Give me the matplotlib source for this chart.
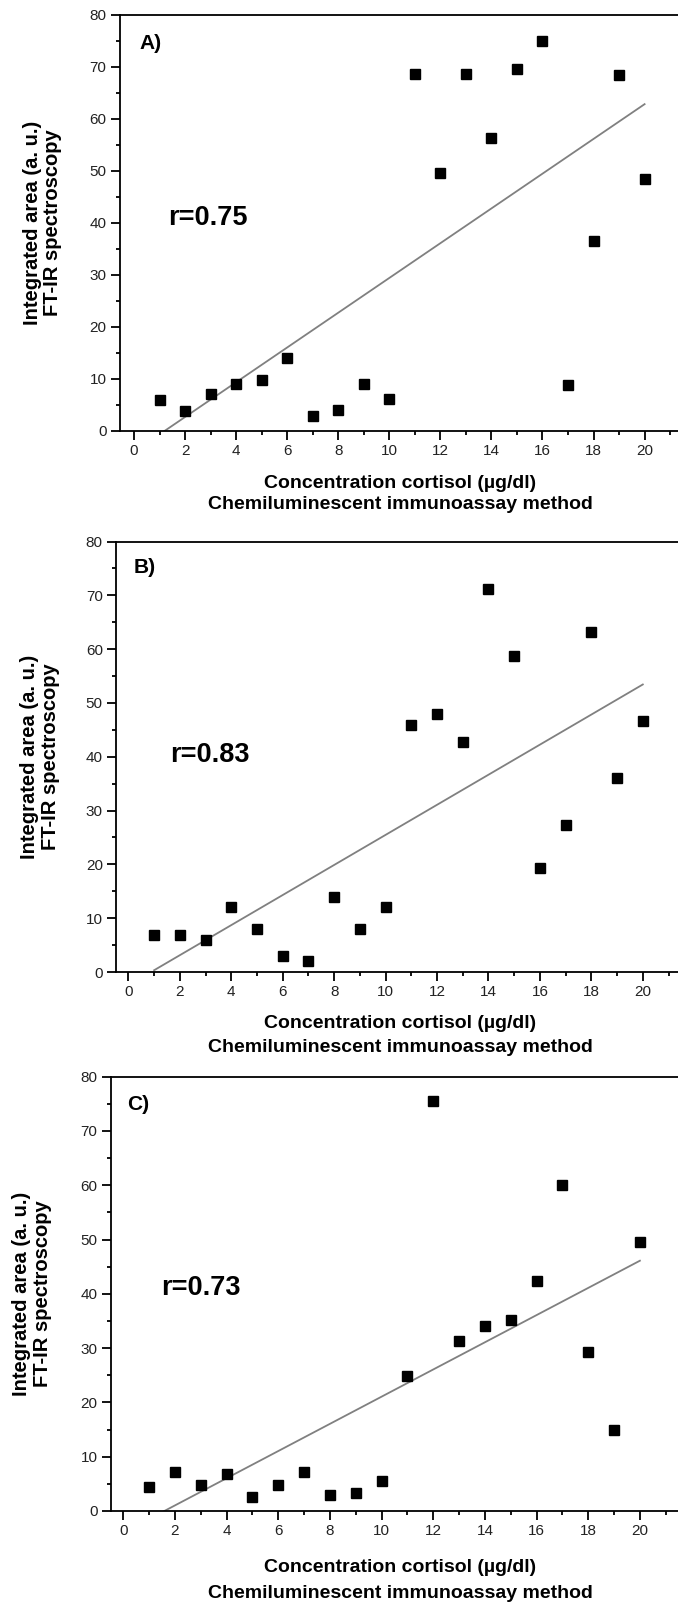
import numpy as np
import matplotlib
matplotlib.use("Agg")
import matplotlib.pyplot as plt
from matplotlib.ticker import MultipleLocator

# ---------------- data ----------------
x_values = list(range(1, 21))
area_A = [5.9, 3.8, 7.0, 9.0, 9.7, 13.9, 2.8, 4.0, 9.0, 6.0,
          68.6, 49.5, 68.6, 56.3, 69.6, 75.0, 8.8, 36.5, 68.3, 48.3]
area_B = [6.9, 6.9, 5.9, 12.0, 8.0, 2.9, 2.0, 14.0, 8.0, 12.0,
          45.9, 48.0, 42.8, 71.1, 58.7, 19.4, 27.3, 63.1, 36.0, 46.7]
area_C = [4.4, 7.1, 4.7, 6.8, 2.5, 4.7, 7.1, 2.9, 3.4, 5.6,
          24.9, 75.5, 31.3, 34.1, 35.1, 42.4, 60.1, 29.3, 14.9, 49.5]
panel_labels = ["A)", "B)", "C)"]
r_labels = ["r=0.75", "r=0.83", "r=0.73"]
x_label_1 = "Concentration cortisol (\u00b5g/dl)"
x_label_2 = "Chemiluminescent immunoassay method"
y_label = "Integrated area (a. u.)\nFT-IR spectroscopy"

REG = ['Liberation Sans', 'DejaVu Sans']
plt.rcParams['font.family'] = REG

W, H = 678, 1605
fig = plt.figure(figsize=(W / 100, H / 100), dpi=100)

geoms = [
    dict(L=119.8, T=14.5, B=430.7, x0=134.0, ppu=25.53, l1=483, l2=505, ylab=42.5),
    dict(L=116.0, T=541.5, B=972.0, x0=128.4, ppu=25.72, l1=1023, l2=1047, ylab=40.0),
    dict(L=110.7, T=1076.7, B=1511.0, x0=123.3, ppu=25.83, l1=1568, l2=1593, ylab=32.0),
]
series = [area_A, area_B, area_C]
label_pos = [(0.22, 74.4), (0.19, 75.2), (0.14, 74.8)]
r_pos = [(1.33, 40.9), (1.61, 40.3), (1.46, 41.1)]

for i, g in enumerate(geoms):
    ax = fig.add_axes([g['L'] / W, 1 - g['B'] / H, (W - g['L']) / W, (g['B'] - g['T']) / H])
    xl = (g['L'] - g['x0']) / g['ppu']
    xr = (W - g['x0']) / g['ppu']
    ax.set_xlim(xl, xr)
    ax.set_ylim(0, 80)
    y = np.array(series[i])
    xs = np.array(x_values)
    slope, intercept = np.polyfit(xs, y, 1)
    xx = np.array([1, 20])
    ax.plot(xx, slope * xx + intercept, color='#808080', lw=1.3, zorder=2)
    ax.plot(xs, y, linestyle='none', marker='s', markersize=6.8, color='black', zorder=3)

    for s in ['left', 'bottom', 'top']:
        ax.spines[s].set_linewidth(1.3)
        ax.spines[s].set_color('black')
    ax.spines['right'].set_visible(False)
    ax.xaxis.set_major_locator(MultipleLocator(2))
    ax.xaxis.set_minor_locator(MultipleLocator(1))
    ax.yaxis.set_major_locator(MultipleLocator(10))
    ax.yaxis.set_minor_locator(MultipleLocator(5))
    ax.tick_params(which='major', direction='out', length=6.5, width=1.3, color='black',
                   labelsize=11, labelcolor='#222222', pad=3)
    ax.tick_params(which='minor', direction='out', length=3.2, width=1.3, color='black')
    ax.tick_params(top=False, right=False, which='both')

    ax.text(*label_pos[i], panel_labels[i], fontsize=15, fontweight='bold',
            ha='left', va='center')
    ax.text(*r_pos[i], r_labels[i], fontsize=19.5, fontweight='bold',
            ha='left', va='center')

    cx = 400 / W
    fig.text(cx, 1 - g['l1'] / H, x_label_1, fontsize=14, fontweight='bold',
             ha='center', va='center')
    fig.text(cx, 1 - g['l2'] / H, x_label_2, fontsize=14, fontweight='bold',
             ha='center', va='center')
    fig.text(g['ylab'] / W, 1 - (g['T'] + g['B']) / 2 / H, y_label, fontsize=14.5,
             fontweight='bold', rotation=90, ha='center', va='center',
             multialignment='center', linespacing=1.1)

fig.savefig('out.png', dpi=100)
